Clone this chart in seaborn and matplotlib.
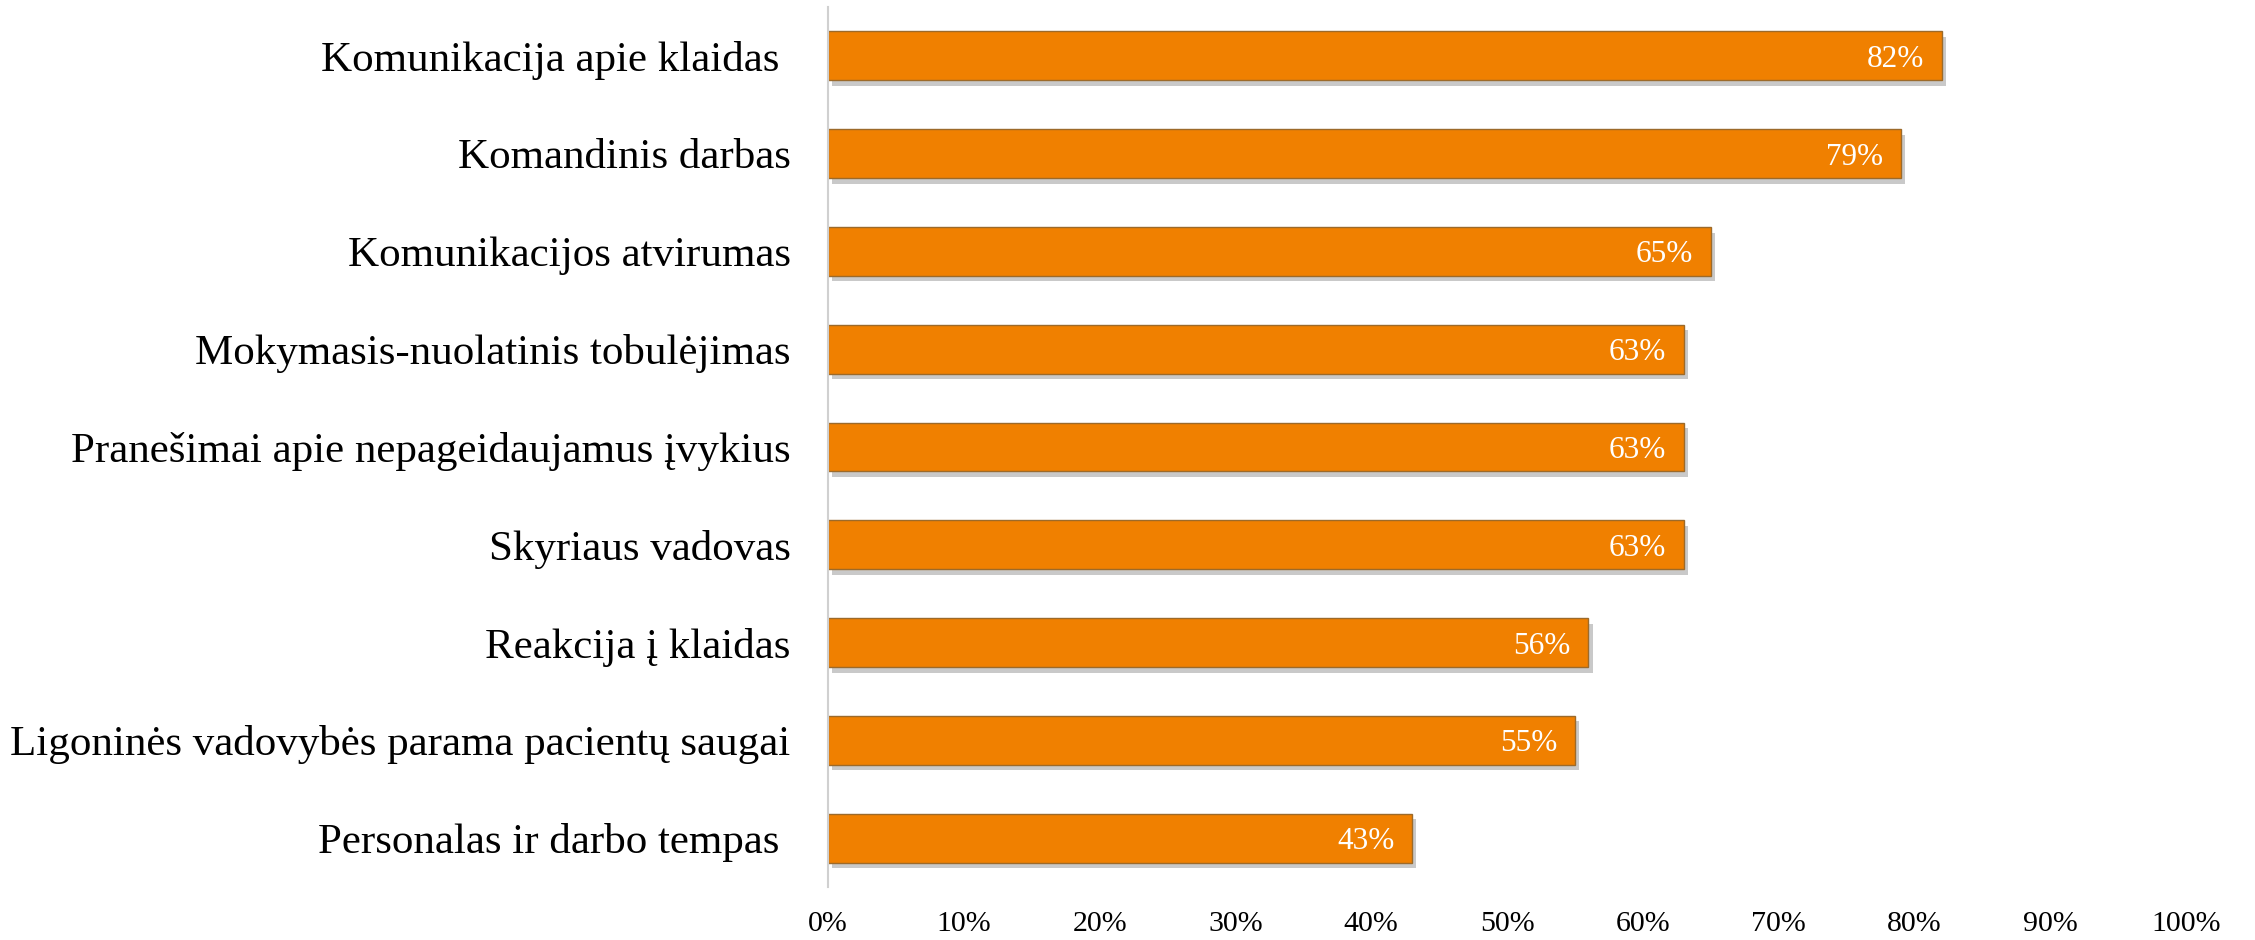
import matplotlib
matplotlib.use("Agg")
import matplotlib.pyplot as plt
import matplotlib.patheffects as pe
from matplotlib.ticker import FuncFormatter
import seaborn as sns
import pandas as pd

categories = [
    "Komunikacija apie klaidas ",
    "Komandinis darbas",
    "Komunikacijos atvirumas",
    "Mokymasis-nuolatinis tobulėjimas",
    "Pranešimai apie nepageidaujamus įvykius",
    "Skyriaus vadovas",
    "Reakcija į klaidas",
    "Ligoninės vadovybės parama pacientų saugai",
    "Personalas ir darbo tempas ",
]
values = [82, 79, 65, 63, 63, 63, 56, 55, 43]
xticks = [0, 10, 20, 30, 40, 50, 60, 70, 80, 90, 100]

df = pd.DataFrame({"cat": categories, "val": values})

sns.set_theme(style="white")
plt.rcParams["font.family"] = ["Liberation Serif", "DejaVu Serif"]

fig = plt.figure(figsize=(22.55, 9.4), dpi=100)
ax = fig.add_axes([828 / 2255, 1 - 887 / 940, (2186 - 828) / 2255, (887 - 7) / 940])

sns.barplot(data=df, x="val", y="cat", orient="h", color="#F08000",
            width=0.5, saturation=1, ax=ax, edgecolor="#9C6A2A", linewidth=1.0)

for p in ax.patches:
    p.set_path_effects([pe.SimplePatchShadow(offset=(3, -4), shadow_rgbFace="#666666", alpha=0.35),
                        pe.Normal()])

for p, v in zip(ax.patches, values):
    ax.text(p.get_x() + p.get_width() - 1.3, p.get_y() + p.get_height() / 2, f"{v}%",
            ha="right", va="center_baseline", color="white", fontsize=22.5)

ax.set_xlim(0, 100)
ax.set_ylim(8.5, -0.5)
ax.set_xticks(xticks)
ax.xaxis.set_major_formatter(FuncFormatter(lambda x, _: f"{x:.0f}%"))
ax.set_xlabel("")
ax.set_ylabel("")
ax.tick_params(axis="x", length=0, pad=17, labelsize=21.5, colors="black")
ax.tick_params(axis="y", length=0, pad=27, labelsize=31, colors="black")
for s in ["top", "right", "bottom"]:
    ax.spines[s].set_visible(False)
ax.spines["left"].set_color("#d0d0d0")
ax.spines["left"].set_linewidth(1.5)

fig.savefig("out.png", dpi=100)
